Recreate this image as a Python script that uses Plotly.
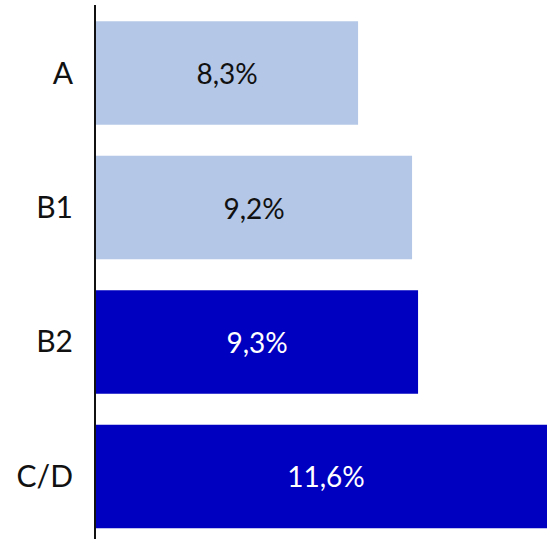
import plotly.graph_objects as go

# Categories and their shares (percent)
categories = ["A", "B1", "B2", "C/D"]
values = [8.3, 9.2, 9.3, 11.6]
bar_colors = ["#B4C7E7", "#B4C7E7", "#0000C0", "#0000C0"]
text_colors = ["#111111", "#111111", "#FFFFFF", "#FFFFFF"]

# Value axis starts here instead of zero
X_MIN = 3.93
X_MAX = 11.45

labels = [f"{v:.1f}%".replace(".", ",") for v in values]

fig = go.Figure(
    go.Bar(
        y=categories,
        x=[v - X_MIN for v in values],
        base=X_MIN,
        orientation="h",
        marker=dict(color=bar_colors, line=dict(width=0)),
        text=labels,
        textposition="inside",
        insidetextanchor="middle",
        textangle=0,
        textfont=dict(family="Lato, sans-serif", size=28, color=text_colors),
        hoverinfo="skip",
        cliponaxis=True,
    )
)

fig.update_layout(
    width=547,
    height=539,
    margin=dict(l=96, r=0, t=5, b=0),
    paper_bgcolor="white",
    plot_bgcolor="white",
    bargap=0.23,
    showlegend=False,
    font=dict(family="Lato, sans-serif", color="#111111"),
    uniformtext=dict(mode=False),
)

fig.update_xaxes(
    range=[X_MIN, X_MAX],
    visible=False,
    showgrid=False,
    zeroline=False,
)

fig.update_yaxes(
    type="category",
    categoryorder="array",
    categoryarray=categories,
    range=[3.465, -0.506],
    showline=True,
    linecolor="#111111",
    linewidth=2,
    showgrid=False,
    zeroline=False,
    ticks="",
    ticklabelstandoff=15,
    tickfont=dict(family="Lato, sans-serif", size=30, color="#111111"),
)

fig.write_html("out.html")
